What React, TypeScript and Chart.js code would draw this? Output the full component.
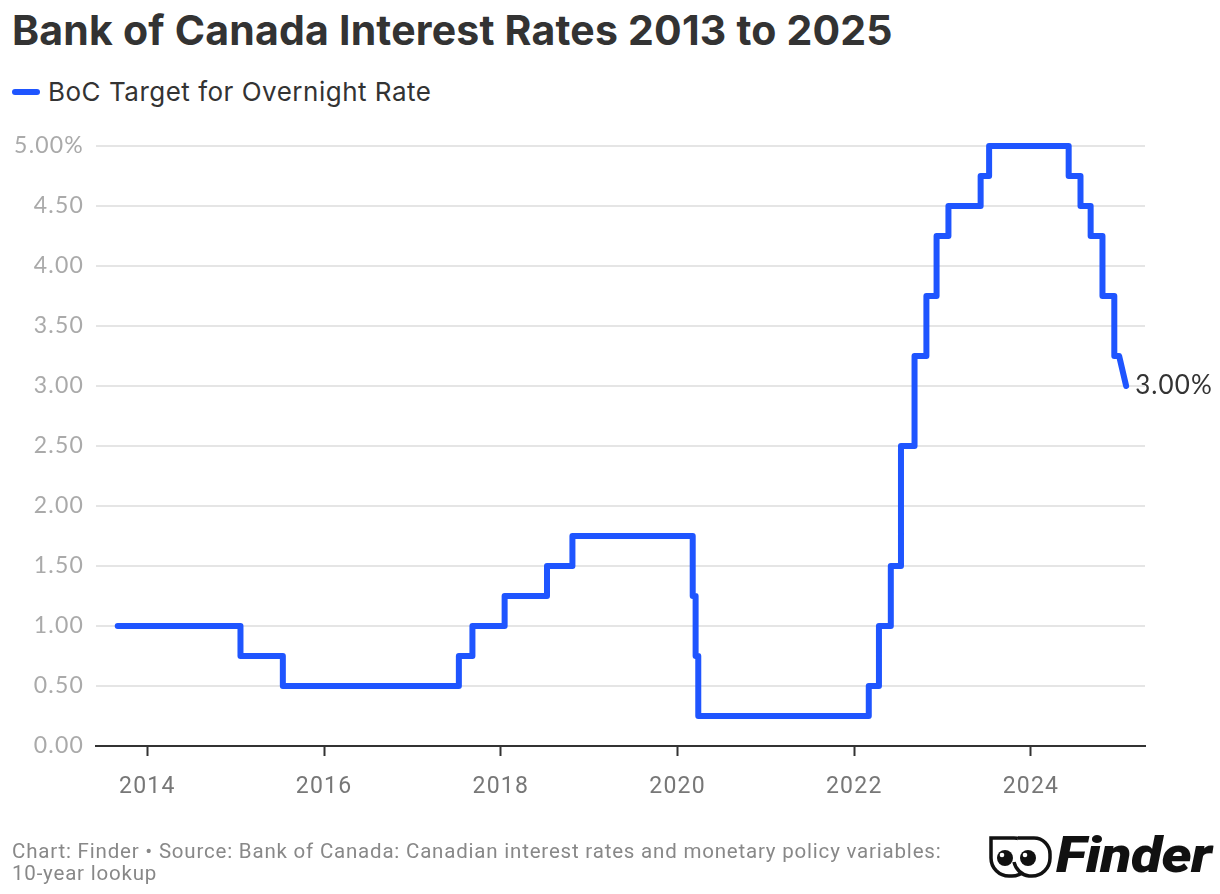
import React, { useEffect, useRef } from "react";
import { Chart, registerables } from "chart.js";

Chart.register(...registerables);

// ---- Data (Bank of Canada target for the overnight rate) ----
const changeDates: string[] = [
  "2013-09-01", "2015-01-21", "2015-07-15", "2017-07-12", "2017-09-06",
  "2018-01-17", "2018-07-11", "2018-10-24", "2020-03-04", "2020-03-16",
  "2020-03-27", "2022-03-02", "2022-04-13", "2022-06-01", "2022-07-13",
  "2022-09-07", "2022-10-26", "2022-12-07", "2023-01-25", "2023-06-07",
  "2023-07-12", "2024-06-05", "2024-07-24", "2024-09-04", "2024-10-23",
  "2024-12-11", "2025-01-29",
];
const changeRates: number[] = [
  1.0, 0.75, 0.5, 0.75, 1.0,
  1.25, 1.5, 1.75, 1.25, 0.75,
  0.25, 0.5, 1.0, 1.5, 2.5,
  3.25, 3.75, 4.25, 4.5, 4.75,
  5.0, 4.75, 4.5, 4.25, 3.75,
  3.25, 3.0,
];
const lastHoldDate = "2024-12-31";
const xTickYears: number[] = [2014, 2016, 2018, 2020, 2022, 2024];
const yTickValues: number[] = [0, 0.5, 1, 1.5, 2, 2.5, 3, 3.5, 4, 4.5, 5];
const xMin = 2013.42;
const xMax = 2025.29;

const TITLE = "Bank of Canada Interest Rates 2013 to 2025";
const SERIES_LABEL = "BoC Target for Overnight Rate";
const FOOTER_1 = "Chart: Finder \u2022 Source: Bank of Canada: Canadian interest rates and monetary policy variables:";
const FOOTER_2 = "10-year lookup";
const LINE_COLOR = "#1f55ff";

function toYear(d: string): number {
  const [y, m, day] = d.split("-").map(Number);
  const start = Date.UTC(y, 0, 1);
  const end = Date.UTC(y + 1, 0, 1);
  const t = Date.UTC(y, m - 1, day);
  return y + (t - start) / (end - start);
}

function buildPoints() {
  const pts: { x: number; y: number }[] = [];
  pts.push({ x: toYear(changeDates[0]), y: changeRates[0] });
  for (let i = 1; i < changeDates.length; i++) {
    const isLast = i === changeDates.length - 1;
    const holdX = isLast ? toYear(lastHoldDate) : toYear(changeDates[i]);
    pts.push({ x: holdX, y: changeRates[i - 1] });
    pts.push({ x: toYear(changeDates[i]), y: changeRates[i] });
  }
  return pts;
}

const spacingPlugin = {
  id: "spacing",
  beforeDraw(chart: any) {
    (chart.ctx as any).letterSpacing = "1.2px";
  },
};

const endLabelPlugin = {
  id: "endLabel",
  afterDatasetsDraw(chart: any) {
    const meta = chart.getDatasetMeta(0);
    const last = meta.data[meta.data.length - 1];
    if (!last) return;
    const ctx = chart.ctx;
    ctx.save();
    (ctx as any).letterSpacing = "1.1px";
    ctx.font = "400 26px Lato, 'Open Sans', sans-serif";
    ctx.fillStyle = "#333333";
    ctx.textAlign = "left";
    ctx.textBaseline = "middle";
    const v = changeRates[changeRates.length - 1];
    ctx.fillText(v.toFixed(2) + "%", last.x + 9, last.y);
    ctx.restore();
  },
};

function FinderLogo() {
  return (
    <div style={{ position: "absolute", left: 988, top: 832, width: 226, height: 48 }}>
      <svg width="66" height="46" viewBox="0 0 66 46" style={{ position: "absolute", left: 0, top: 2 }}>
        <path d="M3 4 H26 A16 16 0 0 1 42 20 V24 A18 18 0 0 1 24 42 H21 A18 18 0 0 1 3 24 Z"
          fill="white" stroke="#111" strokeWidth="3.5" />
        <path d="M30 4 H46 A16 16 0 0 1 62 20 V24 A18 18 0 0 1 44 42 H41 A18 18 0 0 1 26 28"
          fill="white" stroke="#111" strokeWidth="3.5" />
        <circle cx="17" cy="24" r="8" fill="#111" />
        <circle cx="14" cy="21" r="2.3" fill="white" />
        <circle cx="40" cy="24" r="8" fill="#111" />
        <circle cx="37" cy="21" r="2.3" fill="white" />
      </svg>
      <div style={{
        position: "absolute", left: 68, top: -6, fontFamily: "Roboto, 'Liberation Sans', sans-serif",
        fontWeight: 900, fontStyle: "italic", fontSize: 50, color: "#111", letterSpacing: -0.5,
        lineHeight: "58px", whiteSpace: "nowrap", transform: "scaleX(1.14)", transformOrigin: "left center",
      }}>Finder</div>
    </div>
  );
}

export default function App() {
  const canvasRef = useRef<HTMLCanvasElement | null>(null);

  useEffect(() => {
    if (!canvasRef.current) return;
    const chart = new Chart(canvasRef.current, {
      type: "line",
      data: {
        datasets: [
          {
            label: SERIES_LABEL,
            data: buildPoints(),
            borderColor: LINE_COLOR,
            backgroundColor: LINE_COLOR,
            borderWidth: 6,
            borderCapStyle: "round",
            borderJoinStyle: "round",
            pointRadius: 0,
            pointHoverRadius: 0,
            tension: 0,
            fill: false,
            clip: false as any,
          },
        ],
      },
      options: {
        responsive: false,
        animation: false,
        devicePixelRatio: 1,
        layout: { padding: { top: 146, right: 75, bottom: 88, left: 0 } },
        plugins: {
          legend: { display: false },
          title: { display: false },
          tooltip: { enabled: false },
        },
        scales: {
          x: {
            type: "linear",
            min: xMin,
            max: xMax,
            afterFit: (s: any) => { s.height = 60; },
            afterBuildTicks: (s: any) => { s.ticks = xTickYears.map((v) => ({ value: v })); },
            grid: {
              display: true,
              drawOnChartArea: false,
              drawTicks: true,
              tickLength: 10,
              tickColor: "#333333",
              tickWidth: 2,
            },
            border: { display: true, color: "#333333", width: 2 },
            ticks: {
              padding: 17,
              color: "#777777",
              font: { family: "Roboto, 'Liberation Sans', sans-serif", size: 23 },
              maxRotation: 0,
              autoSkip: false,
              callback: (v: any) => String(v),
            },
          },
          y: {
            type: "linear",
            min: 0,
            max: 5,
            afterFit: (s: any) => { s.width = 96; },
            afterBuildTicks: (s: any) => { s.ticks = yTickValues.map((v) => ({ value: v })); },
            grid: {
              drawTicks: false,
              color: (c: any) => (c.tick && c.tick.value === 0 ? "rgba(0,0,0,0)" : "#e5e5e5"),
              lineWidth: 2,
            },
            border: { display: false },
            ticks: {
              padding: 12,
              color: "#aaaaaa",
              font: { family: "Lato, 'Open Sans', sans-serif", size: 23 },
              callback: (v: any) => (Number(v) === 5 ? Number(v).toFixed(2) + "%" : Number(v).toFixed(2)),
            },
          },
        },
      },
      plugins: [spacingPlugin, endLabelPlugin],
    });
    return () => chart.destroy();
  }, []);

  return (
    <div style={{ position: "absolute", left: 0, top: 0, width: 1220, height: 894, background: "#ffffff", overflow: "hidden" }}>
      <div style={{
        position: "absolute", left: 12, top: 4, fontFamily: "Inter, Lato, sans-serif", fontWeight: 700,
        fontSize: 41, color: "#333333", letterSpacing: 0.2, whiteSpace: "nowrap", lineHeight: "52px",
      }}>{TITLE}</div>
      <div style={{ position: "absolute", left: 12, top: 74, height: 34, display: "flex", alignItems: "center" }}>
        <div style={{ width: 28, height: 6, borderRadius: 3, background: LINE_COLOR, marginRight: 8, marginTop: 2 }} />
        <div style={{ fontFamily: "Inter, Lato, sans-serif", fontSize: 26, letterSpacing: 0.5, color: "#333333", whiteSpace: "nowrap" }}>{SERIES_LABEL}</div>
      </div>
      <canvas ref={canvasRef} width={1220} height={894} style={{ position: "absolute", left: 0, top: 0, width: 1220, height: 894 }} />
      <div style={{
        position: "absolute", left: 12, top: 840, fontFamily: "Roboto, 'Liberation Sans', sans-serif",
        fontSize: 20.5, letterSpacing: 0.8, color: "#888888", lineHeight: "22px", whiteSpace: "nowrap",
      }}>
        <div>{FOOTER_1}</div>
        <div>{FOOTER_2}</div>
      </div>
      <FinderLogo />
    </div>
  );
}
